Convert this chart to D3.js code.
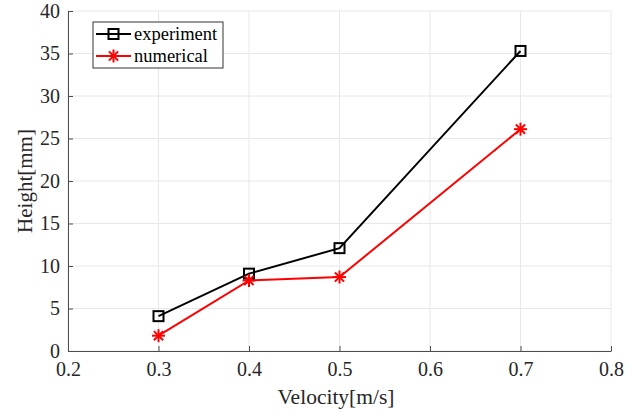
<!DOCTYPE html>
<html><head><meta charset="utf-8">
<script src="https://cdn.jsdelivr.net/npm/d3@7"></script>
<style>body{margin:0;background:#fff}svg{display:block}svg text{font-family:'Liberation Serif','Times New Roman',serif}</style>
</head><body><svg id="c" width="638" height="412" style="font-family:'Liberation Serif',serif"></svg>
<script>
const velocity = [0.3, 0.4, 0.5, 0.7];
const experiment = [4.1, 9.1, 12.1, 35.3];
const numerical = [1.8, 8.3, 8.7, 26.1];
const xTicks = [0.2, 0.3, 0.4, 0.5, 0.6, 0.7, 0.8];
const yTicks = [0, 5, 10, 15, 20, 25, 30, 35, 40];
const seriesNames = ["experiment", "numerical"];

const FONT = "'Liberation Serif', 'Times New Roman', serif";
const svg = d3.select("#c");
const L = 68, R = 611, T = 11, B = 351;
const x = d3.scaleLinear().domain([0.2, 0.8]).range([L, R]);
const y = d3.scaleLinear().domain([0, 40]).range([B, T]);
const axisCol = "#4d4d4d", txtCol = "#262626";

// grid
svg.append("g").selectAll("line").data(xTicks).join("line")
  .attr("x1", d => x(d)).attr("x2", d => x(d)).attr("y1", T).attr("y2", B)
  .attr("stroke", "#e8e8e8").attr("stroke-width", 1);
svg.append("g").selectAll("line").data(yTicks).join("line")
  .attr("y1", d => y(d)).attr("y2", d => y(d)).attr("x1", L).attr("x2", R)
  .attr("stroke", "#e8e8e8").attr("stroke-width", 1);

const lineGen = d3.line().x(d => x(d[0])).y(d => y(d[1]));
const expData = velocity.map((v, i) => [v, experiment[i]]);
const numData = velocity.map((v, i) => [v, numerical[i]]);

function square(g, cx, cy) {
  g.append("rect").attr("x", cx - 5).attr("y", cy - 5).attr("width", 10).attr("height", 10)
    .attr("fill", "none").attr("stroke", "#000").attr("stroke-width", 2);
}
function star(g, cx, cy) {
  const r = 6.5;
  [0, 45, 90, 135].forEach(a => {
    const rad = a * Math.PI / 180;
    g.append("line").attr("x1", cx - r * Math.cos(rad)).attr("y1", cy - r * Math.sin(rad))
      .attr("x2", cx + r * Math.cos(rad)).attr("y2", cy + r * Math.sin(rad))
      .attr("stroke", "#ff0000").attr("stroke-width", 2);
  });
}

svg.append("path").datum(expData).attr("d", lineGen).attr("fill", "none").attr("stroke", "#000").attr("stroke-width", 2);
svg.append("path").datum(numData).attr("d", lineGen).attr("fill", "none").attr("stroke", "#ff0000").attr("stroke-width", 2);
const mk = svg.append("g");
expData.forEach(d => square(mk, x(d[0]), y(d[1])));
numData.forEach(d => star(mk, x(d[0]), y(d[1])));

// labels
svg.append("text").attr("x", 336).attr("y", 404).attr("text-anchor", "middle")
  .style("font-size", "21.5px").attr("fill", txtCol).text("Velocity[m/s]");
svg.append("text").attr("transform", `translate(32,${(T + B) / 2}) rotate(-90)`)
  .attr("text-anchor", "middle").style("font-size", "21px").attr("fill", txtCol).text("Height[mm]");

// legend
const lg = svg.append("g");
lg.append("rect").attr("x", 93).attr("y", 22).attr("width", 130).attr("height", 46)
  .attr("fill", "#fff").attr("stroke", "#333").attr("stroke-width", 1);
const rows = [34, 56];
lg.append("line").attr("x1", 96).attr("x2", 131).attr("y1", rows[0]).attr("y2", rows[0]).attr("stroke", "#000").attr("stroke-width", 2);
square(lg, 113.5, rows[0]);
lg.append("line").attr("x1", 96).attr("x2", 131).attr("y1", rows[1]).attr("y2", rows[1]).attr("stroke", "#ff0000").attr("stroke-width", 2);
star(lg, 113.5, rows[1]);
seriesNames.forEach((n, i) => {
  lg.append("text").attr("x", 134).attr("y", rows[i] + 5.5).style("font-size", "18.5px").attr("fill", "#000").text(n);
});

// axes (drawn last)
const gx = svg.append("g").attr("transform", `translate(0,${B})`)
  .call(d3.axisBottom(x).tickValues(xTicks).tickFormat(d3.format(".1f")).tickSizeInner(-5).tickSizeOuter(0).tickPadding(11));
const gy = svg.append("g").attr("transform", `translate(${L},0)`)
  .call(d3.axisLeft(y).tickValues(yTicks).tickSizeInner(-5).tickSizeOuter(0).tickPadding(8));
[gx, gy].forEach(g => {
  g.attr("font-family", FONT).attr("font-size", 20);
  g.select(".domain").attr("stroke", axisCol).attr("stroke-width", 1);
  g.selectAll(".tick line").attr("stroke", axisCol);
  g.selectAll(".tick text").attr("fill", txtCol)
   .attr("font-family", FONT).attr("font-size", 20)
   .style("font-size", "20px").style("font-family", FONT);
});
</script></body></html>
